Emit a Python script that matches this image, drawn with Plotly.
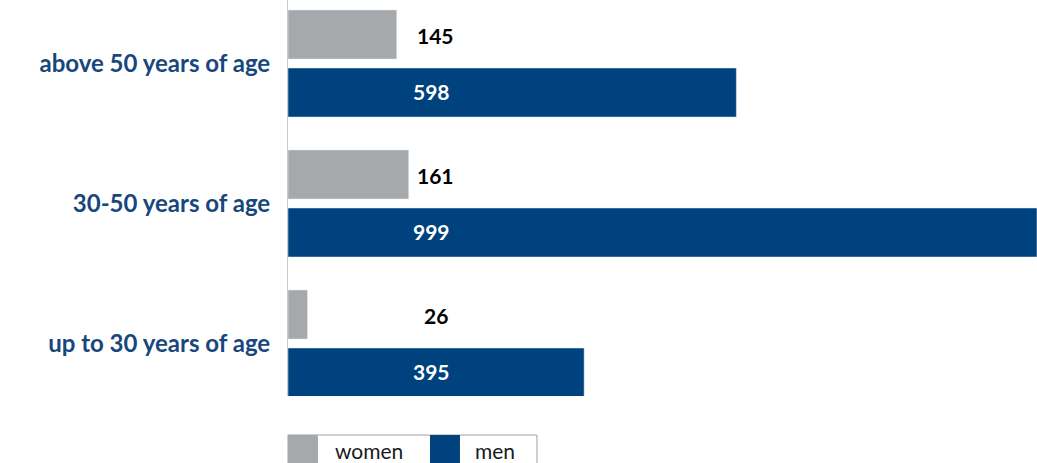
import plotly.graph_objects as go

categories = ["up to 30 years of age", "30-50 years of age", "above 50 years of age"]
women = [26, 161, 145]
men = [395, 999, 598]

GRAY = "#A6A9AB"
NAVY = "#00427E"
FONT = "Lato, 'Open Sans', sans-serif"

ypos = list(range(len(categories)))

fig = go.Figure()
fig.add_trace(go.Bar(y=ypos, x=men, orientation="h", marker_color=NAVY, name="men", showlegend=False))
fig.add_trace(go.Bar(y=ypos, x=women, orientation="h", marker_color=GRAY, name="women", showlegend=False))

# value labels at fixed x position
for i, (w, m) in enumerate(zip(women, men)):
    fig.add_annotation(x=197, y=i, yshift=28, text=f"<b>{w}</b>", showarrow=False,
                       font=dict(family=FONT, size=21, color="black"), xanchor="center", yanchor="middle")
    fig.add_annotation(x=191, y=i, yshift=-28, text=f"<b>{m}</b>", showarrow=False,
                       font=dict(family=FONT, size=21, color="white"), xanchor="center", yanchor="middle")

# custom legend
fig.add_shape(type="rect", xref="paper", yref="paper", x0=0, x1=0.3324, y0=-0.2, y1=-0.0985,
              line=dict(color="#A0A0A0", width=1), fillcolor="white")
fig.add_shape(type="rect", xref="paper", yref="paper", x0=0, x1=0.04, y0=-0.2, y1=-0.0985,
              line=dict(width=0), fillcolor=GRAY)
fig.add_shape(type="rect", xref="paper", yref="paper", x0=0.1896, x1=0.2296, y0=-0.2, y1=-0.0985,
              line=dict(width=0), fillcolor=NAVY)
for label, px in [("women", 369), ("men", 495)]:
    fig.add_annotation(xref="paper", yref="paper", x=(px - 288) / 749, y=(396 - 450) / 396, text=label,
                       showarrow=False, font=dict(family=FONT, size=21, color="#1a1a1a"),
                       xanchor="center", yanchor="middle", height=22, valign="middle", borderpad=0)

fig.update_layout(
    width=1037, height=463,
    margin=dict(l=288, r=0, t=0, b=67),
    plot_bgcolor="white", paper_bgcolor="white",
    barmode="group", bargap=0.171, bargroupgap=0.155,
    xaxis=dict(range=[0, 999], showgrid=False, showticklabels=False, zeroline=False, showline=False),
    yaxis=dict(range=[-0.375, 2.4536], tickvals=ypos, ticktext=[f"<b>{c}</b>" for c in categories],
               showgrid=False, zeroline=False, showline=True, linecolor="#C8C8C8", linewidth=1,
               ticks="", ticklabelstandoff=12,
               tickfont=dict(family=FONT, size=24, color="#17477C")),
)

fig.write_html("out.html")
